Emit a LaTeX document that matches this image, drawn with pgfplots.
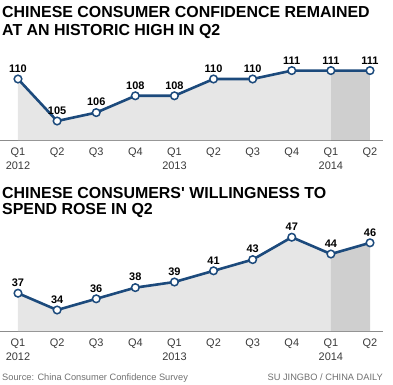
\documentclass[border=0pt]{standalone}
\usepackage{pgfplots}
\pgfplotsset{compat=1.18}
\usepackage{fontspec}
\setmainfont{Liberation Sans}
\definecolor{navy}{HTML}{1C4A7C}
\definecolor{fillA}{HTML}{E6E6E6}
\definecolor{fillB}{HTML}{CFCFCF}
\definecolor{axisgray}{HTML}{8C8C8C}
\definecolor{ticktext}{HTML}{3A3A3A}
\definecolor{srcgray}{HTML}{707070}

\pgfplotsset{
 qchart/.style={
  scale only axis, width=383bp,
  xmin=-0.46, xmax=9.332,
  axis x line*=bottom, axis y line=none,
  x axis line style={axisgray, line width=1bp},
  xtick={0,...,9},
  xticklabels={{Q1\\2012},Q2,Q3,Q4,{Q1\\2013},Q2,Q3,Q4,{Q1\\2014},Q2},
  xticklabel style={align=center, font=\fontsize{11}{14}\selectfont, text=ticktext, yshift=-4.5bp},
  major tick length=0pt,
  clip=false,
  /pgf/number format/assume math mode=true,
 },
 dataline/.style={navy, line width=2.6bp, mark=*, mark size=3.8bp,
  mark options={fill=white, draw=navy, line width=1.5bp},
  nodes near coords,
  every node near coord/.append style={font=\bfseries\fontsize{11}{12}\selectfont, text=black, anchor=south, yshift=2.5bp}},
}

\begin{document}
\begin{tikzpicture}
\useasboundingbox (0,0) rectangle (393bp,-385bp);

\node[anchor=base west, font=\bfseries\fontsize{16}{18}\selectfont, inner sep=0] at (2bp,-17bp) {CHINESE CONSUMER CONFIDENCE REMAINED};
\node[anchor=base west, font=\bfseries\fontsize{16}{18}\selectfont, inner sep=0] at (2bp,-35bp) {AT AN HISTORIC HIGH IN Q2};

\begin{axis}[qchart, at={(0bp,-140bp)}, anchor=south west, height=80bp, ymin=102.74, ymax=112.26]
\addplot[fill=fillA, draw=none, forget plot] coordinates {(0,102.74) (0,110) (1,105) (2,106) (3,108) (4,108) (5,110) (6,110) (7,111) (8,111) (8,102.74)} -- cycle;
\addplot[fill=fillB, draw=none, forget plot] coordinates {(8,102.74) (8,111) (9,111) (9,102.74)} -- cycle;
\addplot[dataline] coordinates {(0,110) (1,105) (2,106) (3,108) (4,108) (5,110) (6,110) (7,111) (8,111) (9,111)};
\end{axis}

\node[anchor=base west, font=\bfseries\fontsize{16}{18}\selectfont, inner sep=0] at (2bp,-198bp) {CHINESE CONSUMERS\textquotesingle\ WILLINGNESS TO};
\node[anchor=base west, font=\bfseries\fontsize{16}{18}\selectfont, inner sep=0] at (2bp,-214bp) {SPEND ROSE IN Q2};

\begin{axis}[qchart, at={(0bp,-331bp)}, anchor=south west, height=100bp, ymin=30.25, ymax=48.11]
\addplot[fill=fillA, draw=none, forget plot] coordinates {(0,30.25) (0,37) (1,34) (2,36) (3,38) (4,39) (5,41) (6,43) (7,47) (8,44) (8,30.25)} -- cycle;
\addplot[fill=fillB, draw=none, forget plot] coordinates {(8,30.25) (8,44) (9,46) (9,30.25)} -- cycle;
\addplot[dataline] coordinates {(0,37) (1,34) (2,36) (3,38) (4,39) (5,41) (6,43) (7,47) (8,44) (9,46)};
\end{axis}

\node[anchor=base west, font=\fontsize{9.3}{10}\selectfont, text=srcgray, inner sep=0] at (2bp,-380bp) {Source: China Consumer Confidence Survey};
\node[anchor=base east, font=\fontsize{9.3}{10}\selectfont, text=srcgray, inner sep=0] at (383bp,-380bp) {SU JINGBO / CHINA DAILY};
\end{tikzpicture}
\end{document}
